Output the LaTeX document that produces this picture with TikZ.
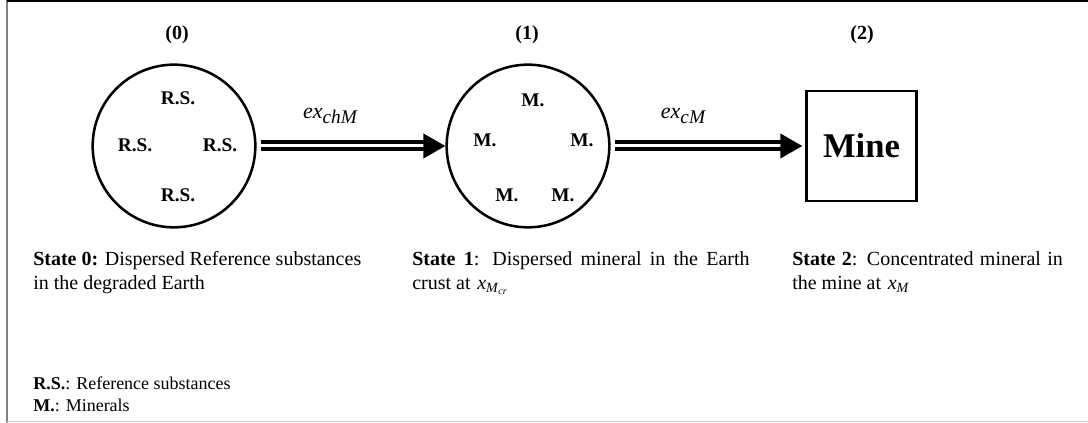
\documentclass[tikz,border=0pt]{standalone}
\usepackage{fontspec}
\setmainfont{Liberation Serif}
\usepackage{tikz}
\usetikzlibrary{arrows.meta, positioning}

\begin{document}
\begin{tikzpicture}[x=0.75pt, y=-0.75pt,
  state/.style={circle, draw, line width=1.9pt, minimum size=122pt, inner sep=0pt},
  minebox/.style={rectangle, draw, line width=2.2pt, minimum size=82.5pt, inner sep=0pt, font=\fontsize{26}{30}\selectfont\bfseries},
  item/.style={font=\fontsize{14.5}{16}\selectfont\bfseries, inner sep=0pt},
  head/.style={font=\fontsize{15}{17}\selectfont\bfseries, inner sep=0pt},
  flow/.style={double, double distance=2.25pt, line width=3pt, -{Triangle[length=16.5pt, width=18pt]}},
  rate/.style={font=\fontsize{16.5}{18}\selectfont\itshape, inner sep=0pt},
  desc/.style={anchor=north west, inner sep=0pt, align=justify, font=\fontsize{15}{18}\selectfont},
  key/.style={anchor=west, inner sep=0pt, font=\fontsize{13.5}{15}\selectfont}]
\useasboundingbox (0,0) rectangle (1088,423);
\draw[gray, line width=1.5pt] (7,0) -- (7,423);
\draw[line width=1.2pt] (7,1) -- (1088,1);
\draw[gray!40, line width=1pt] (7,421.5) -- (1088,421.5);

\node[state] (s0) at (174,146) {};
\node[state] (s1) at (528,146) {};
\node[minebox] (mine) at (861.5,146) {Mine};

\node[head] (h0) at (177,35) {(0)};
\node[head] (h1) at (527,35) {(1)};
\node[head] (h2) at (862,35) {(2)};

\node[item] (rs1) at (178,98) {R.S.};
\node[item] (rs2) at (135,145) {R.S.};
\node[item] (rs3) at (220,145) {R.S.};
\node[item] (rs4) at (178,195) {R.S.};

\node[item] (m1) at (533,100) {M.};
\node[item] (m2) at (485,140) {M.};
\node[item] (m3) at (582,140) {M.};
\node[item] (m4) at (507,195) {M.};
\node[item] (m5) at (563,195) {M.};

\draw[flow, shorten <=3pt] (s0) -- (s1);
\draw[flow, shorten <=3.5pt, shorten >=2pt] (s1) -- (mine);
\node[rate] (r1) at (330,116) {ex\raisebox{-0.45ex}{\fontsize{14.5}{16}\selectfont chM}};
\node[rate] (r2) at (683,116) {ex\raisebox{-0.45ex}{\fontsize{14.5}{16}\selectfont cM}};

\node[desc, text width=246pt] (d0) at (33,251) {\textbf{State 0:} Dispersed Reference substances\linebreak in the degraded Earth};
\node[desc, text width=253pt] (d1) at (412,251) {\textbf{State 1}: Dispersed mineral in the Earth\linebreak crust at\hspace{5pt}\textit{x}\textsubscript{\textit{M}\textsubscript{\textit{cr}}}};
\node[desc, text width=203pt] (d2) at (792,251) {\textbf{State 2}: Concentrated mineral in\linebreak the mine at\hspace{5pt}\textit{x}\textsubscript{\textit{M}}};

\node[key] (k0) at (33,383) {\textbf{R.S.}: Reference substances};
\node[key] (k1) at (33,405) {\textbf{M.}: Minerals};
\end{tikzpicture}
\end{document}
